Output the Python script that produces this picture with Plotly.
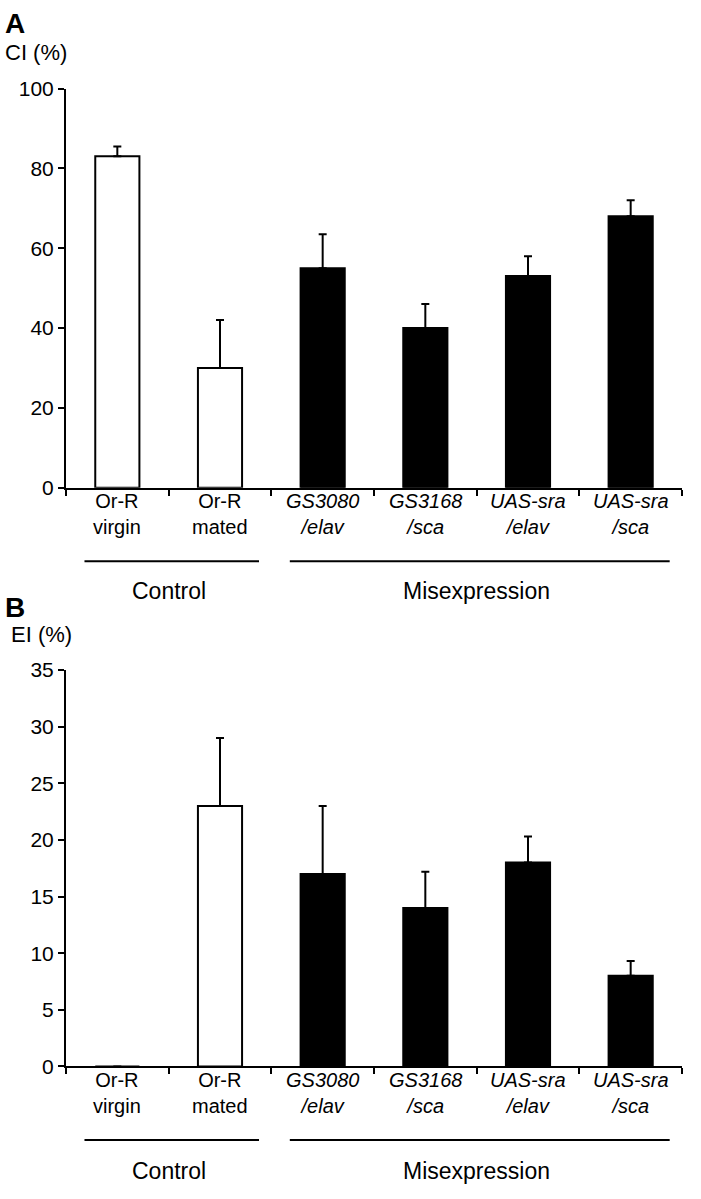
import plotly.graph_objects as go

# ---- data ----
categories = ["Or-R<br>virgin", "Or-R<br>mated",
              "<i>GS3080</i><br><i>/elav</i>", "<i>GS3168</i><br><i>/sca</i>",
              "<i>UAS-sra</i><br><i>/elav</i>", "<i>UAS-sra</i><br><i>/sca</i>"]
groups = ["Control", "Control", "Misexpression", "Misexpression",
          "Misexpression", "Misexpression"]
ci_values = [83, 30, 55, 40, 53, 68]
ci_errors = [2.5, 12, 8.5, 6, 5, 4]
ei_values = [0, 23, 17, 14, 18, 8]
ei_errors = [0, 6, 6, 3.2, 2.3, 1.3]
ci_ticks = [0, 20, 40, 60, 80, 100]
ei_ticks = [0, 5, 10, 15, 20, 25, 30, 35]

W, H = 701, 1199
FONT = "Liberation Sans, Arial, Helvetica, sans-serif"
group_color = {"Control": "white", "Misexpression": "black"}
colors = [group_color[g] for g in groups]

fig = go.Figure()

def add_panel(values, errors, xa, ya):
    fig.add_trace(go.Bar(
        x=list(range(len(categories))), y=values, xaxis=xa, yaxis=ya,
        marker=dict(color=colors, line=dict(color="black", width=2)),
        width=0.43,
        error_y=dict(type="data", array=errors, arrayminus=[0] * len(errors),
                     symmetric=False, color="black", thickness=2, width=4),
        showlegend=False, hoverinfo="y",
    ))

add_panel(ci_values, ci_errors, "x", "y")
add_panel(ei_values, ei_errors, "x2", "y2")

def px_x(p):
    return p / W

def px_y(p):
    return 1 - p / H

xdom = [px_x(66), px_x(682)]
axis_common = dict(showline=True, linecolor="black", linewidth=2,
                   ticks="outside", ticklen=6, tickwidth=2, tickcolor="black",
                   showgrid=False, zeroline=False,
                   tickfont=dict(family=FONT, size=21, color="black"))
n = len(categories)
xaxis_common = dict(range=[-0.5, n - 0.5], tickmode="array",
                    tickvals=[i - 0.5 for i in range(n + 1)],
                    showticklabels=False, **axis_common)

fig.update_layout(
    width=W, height=H, margin=dict(l=0, r=0, t=0, b=0),
    paper_bgcolor="white", plot_bgcolor="white",
    xaxis=dict(domain=xdom, anchor="y", **xaxis_common),
    yaxis=dict(domain=[px_y(485), px_y(78)], anchor="x", range=[0, 100],
               tickvals=ci_ticks, **axis_common),
    xaxis2=dict(domain=xdom, anchor="y2", **xaxis_common),
    yaxis2=dict(domain=[px_y(1075), px_y(671)], anchor="x2", range=[0, 35],
                tickvals=ei_ticks, **axis_common),
)

# category labels (two lines each)
def add_cat_labels(xref, mid_px):
    for i, c in enumerate(categories):
        fig.add_annotation(xref=xref, yref="paper", x=i, y=px_y(mid_px),
                           text=c, showarrow=False,
                           xanchor="center", yanchor="middle",
                           font=dict(family=FONT, size=20, color="black"))

add_cat_labels("x", 512)
add_cat_labels("x2", 1102)

# group brackets and labels
def add_groups(xref, line_px, label_px):
    names = []
    for g in groups:
        if g not in names:
            names.append(g)
    for g in names:
        idx = [i for i, gg in enumerate(groups) if gg == g]
        x0, x1 = idx[0] - 0.32, idx[-1] + 0.38
        fig.add_shape(type="line", xref=xref, yref="paper",
                      x0=x0, x1=x1, y0=px_y(line_px), y1=px_y(line_px),
                      line=dict(color="black", width=2))
        fig.add_annotation(xref=xref, yref="paper", x=(idx[0] + idx[-1]) / 2,
                           y=px_y(label_px), text=g, showarrow=False,
                           font=dict(family=FONT, size=23, color="black"),
                           xanchor="center", yanchor="middle")

add_groups("x", 560, 590)
add_groups("x2", 1150, 1182)

# panel letters and axis titles
for txt, xp, yp, size, bold in [("A", 3, 12, 28, True), ("CI (%)", 3, 41, 22, False),
                                ("B", 3, 607, 28, True), ("EI (%)", 9, 635, 22, False)]:
    fig.add_annotation(xref="paper", yref="paper", x=px_x(xp), y=px_y(yp),
                       text=f"<b>{txt}</b>" if bold else txt, showarrow=False,
                       xanchor="left", yanchor="middle",
                       font=dict(family=FONT, size=size, color="black"))

fig.write_html("out.html", config={"displayModeBar": False},
               post_script="document.body.style.margin='0';")
